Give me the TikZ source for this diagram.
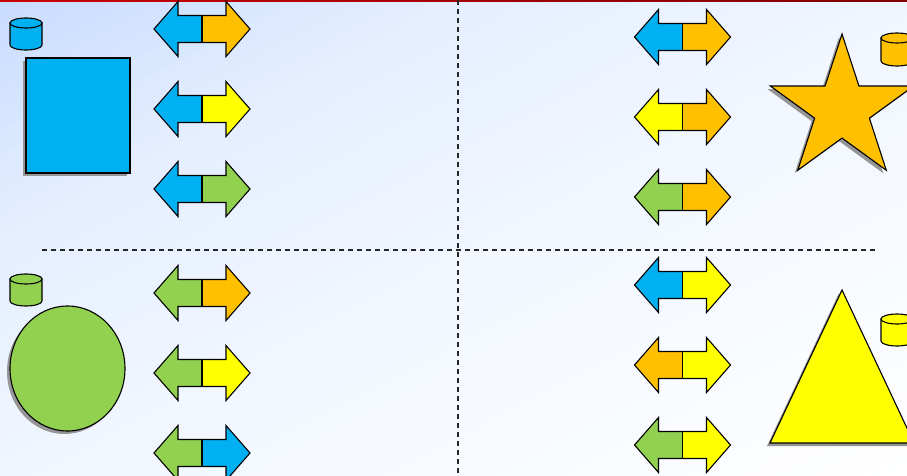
\documentclass[tikz,border=0pt]{standalone}
\definecolor{cblue}{HTML}{00B0F0}
\definecolor{corange}{HTML}{FFC000}
\definecolor{cyellow}{HTML}{FFFF00}
\definecolor{cgreen}{HTML}{92D050}
\definecolor{bgA}{RGB}{200,220,255}
\definecolor{shadowgray}{RGB}{150,150,150}
\definecolor{redA}{RGB}{204,0,0}
\definecolor{redB}{RGB}{128,0,0}
\tikzset{
  outline/.style={draw=black, line width=1.1pt, line join=miter},
  shadowfill/.style={fill=shadowgray},
  divider/.style={draw=black!85, line width=1.1pt, dash pattern=on 5pt off 4pt},
}
\newcommand{\twoarrow}[4]{%
  \begin{scope}[shift={(#1,#2)}]
    \fill[#3] (-48,0) -- (-24,-27.5) -- (-24,-13.5) -- (0,-13.5) -- (0,13.5) -- (-24,13.5) -- (-24,27.5) -- cycle;
    \fill[#4] (48,0) -- (24,-27.5) -- (24,-13.5) -- (0,-13.5) -- (0,13.5) -- (24,13.5) -- (24,27.5) -- cycle;
    \draw[outline] (-48,0) -- (-24,-27.5) -- (-24,-13.5) -- (24,-13.5) -- (24,-27.5) -- (48,0)
      -- (24,27.5) -- (24,13.5) -- (-24,13.5) -- (-24,27.5) -- cycle;
    \draw[outline] (0,-13.5) -- (0,13.5);
  \end{scope}}
\newcommand{\drum}[4]{% x0, ytop, height, colour
  \begin{scope}[shift={(#1,#2)}]
    \filldraw[outline, fill=#4] (0,5) -- (0,{#3-5}) arc[start angle=180, end angle=0, x radius=16, y radius=5] -- (32,5) -- cycle;
    \filldraw[outline, fill=#4] (16,5) ellipse[x radius=16, y radius=5];
  \end{scope}}
\begin{document}
\begin{tikzpicture}[x=1pt,y=-1pt]
  \clip (0,0) rectangle (907,476);
  % background: diagonal gradient, light blue at top left to white at bottom right
  \fill[white] (0,0) rectangle (907,476);
  \foreach \i in {0,...,79}{
    \pgfmathsetmacro\ta{\i*0.025}
    \pgfmathsetmacro\tb{\ta+0.03}
    \pgfmathsetmacro\tm{\ta+0.0125}
    \pgfmathsetmacro\pc{100*((\tm<0.5)*(1-1.06*\tm) + (1-(\tm<0.5))*(\tm<1)*(0.47-0.4*(\tm-0.5)) + (1-(\tm<1))*(0.27*(2-\tm)))}
    \fill[bgA!\pc!white] ({907*\ta+19.05},-10) -- ({907*\tb+19.05},-10) -- ({907*\tb-933.7},490) -- ({907*\ta-933.7},490) -- cycle;
  }
  \shade[left color=redA, right color=redB] (0,0) rectangle (907,1.6);
  % dividers
  \draw[divider] (458,0) -- (458,476);
  \draw[divider] (42,250) -- (875,250);
  % top-left: rectangle
  \drum{10}{18}{32}{cblue}
  \fill[shadowfill] (23,61) rectangle (127,176);
  \filldraw[outline, fill=cblue] (26,58) rectangle (130,173);
  \twoarrow{202}{29}{cblue}{corange}
  \twoarrow{202}{109}{cblue}{cyellow}
  \twoarrow{202}{189}{cblue}{cgreen}
  % bottom-left: circle
  \drum{10}{274}{32}{cgreen}
  \fill[shadowfill] (64.5,371.5) ellipse[x radius=57.5, y radius=62.5];
  \filldraw[outline, fill=cgreen] (67.5,368.5) ellipse[x radius=57.5, y radius=62.5];
  \twoarrow{202}{293}{cgreen}{corange}
  \twoarrow{202}{373}{cgreen}{cyellow}
  \twoarrow{202}{453}{cgreen}{cblue}
  % top-right: star
  \twoarrow{682.5}{37}{cblue}{corange}
  \twoarrow{682.5}{117}{cyellow}{corange}
  \twoarrow{682.5}{197}{cgreen}{corange}
  \begin{scope}[shift={(-3,3)}]
    \fill[shadowfill] (842,34) -- (825.07,86) -- (770.38,86.03) -- (814.61,118.2) -- (797.74,170.22)
      -- (842,138.1) -- (886.26,170.22) -- (869.39,118.2) -- (913.62,86.03) -- (858.93,86) -- cycle;
  \end{scope}
  \filldraw[outline, fill=corange] (842,34) -- (825.07,86) -- (770.38,86.03) -- (814.61,118.2) -- (797.74,170.22)
      -- (842,138.1) -- (886.26,170.22) -- (869.39,118.2) -- (913.62,86.03) -- (858.93,86) -- cycle;
  \drum{881}{33}{33}{corange}
  % bottom-right: triangle
  \twoarrow{682.5}{285}{cblue}{cyellow}
  \twoarrow{682.5}{365}{corange}{cyellow}
  \twoarrow{682.5}{445}{cgreen}{cyellow}
  \fill[shadowfill] (839,293) -- (767,446) -- (911,446) -- cycle;
  \filldraw[outline, fill=cyellow] (842,290) -- (770,443) -- (914,443) -- cycle;
  \drum{881}{314}{32}{cyellow}
\end{tikzpicture}
\end{document}
